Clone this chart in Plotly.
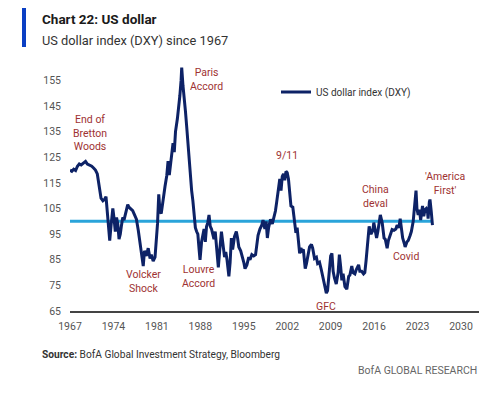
import plotly.graph_objects as go

# ---- data ----
years = [
    1967.0, 1967.3, 1967.6, 1967.9, 1968.2, 1968.5, 1968.8, 1969.1, 1969.5, 1969.8,
    1970.1, 1970.5, 1970.8, 1971.1, 1971.4, 1971.7, 1972.0, 1972.3, 1972.6, 1972.8,
    1973.0, 1973.2, 1973.4, 1973.6, 1973.9, 1974.1, 1974.3, 1974.5, 1974.7, 1974.9,
    1975.1, 1975.3, 1975.5, 1975.7, 1976.0, 1976.3, 1976.5, 1976.8, 1977.1, 1977.4,
    1977.7, 1978.0, 1978.2, 1978.5, 1978.8, 1979.0, 1979.3, 1979.6, 1979.9, 1980.1,
    1980.4, 1980.7, 1980.9, 1981.1, 1981.3, 1981.5, 1981.7, 1982.0, 1982.3, 1982.6,
    1982.8, 1983.0, 1983.3, 1983.6, 1983.8, 1984.0, 1984.3, 1984.5, 1984.7, 1984.9,
    1985.0, 1985.2, 1985.4, 1985.6, 1985.8, 1986.0, 1986.2, 1986.4, 1986.6, 1986.8,
    1987.0, 1987.2, 1987.4, 1987.6, 1987.8, 1987.95, 1988.2, 1988.4, 1988.6, 1988.8,
    1989.0, 1989.2, 1989.4, 1989.6, 1989.8, 1990.0, 1990.2, 1990.4, 1990.6, 1990.9,
    1991.1, 1991.4, 1991.6, 1991.9, 1992.1, 1992.3, 1992.6, 1992.8, 1993.0, 1993.2,
    1993.5, 1993.8, 1994.0, 1994.2, 1994.5, 1994.8, 1995.0, 1995.2, 1995.5, 1995.8,
    1996.0, 1996.3, 1996.6, 1996.9, 1997.1, 1997.3, 1997.6, 1997.9, 1998.1, 1998.4,
    1998.6, 1998.8, 1999.0, 1999.3, 1999.6, 1999.9, 2000.1, 2000.3, 2000.5, 2000.8,
    2001.0, 2001.2, 2001.4, 2001.6, 2001.8, 2002.0, 2002.2, 2002.4, 2002.6, 2002.9,
    2003.1, 2003.4, 2003.6, 2003.8, 2004.0, 2004.2, 2004.4, 2004.6, 2004.9, 2005.1,
    2005.4, 2005.6, 2005.9, 2006.1, 2006.4, 2006.7, 2006.9, 2007.2, 2007.5, 2007.8,
    2008.0, 2008.3, 2008.5, 2008.8, 2009.0, 2009.2, 2009.4, 2009.6, 2009.9, 2010.2,
    2010.4, 2010.6, 2010.8, 2011.0, 2011.3, 2011.6, 2011.9, 2012.1, 2012.4, 2012.6,
    2012.9, 2013.1, 2013.5, 2013.7, 2014.0, 2014.3, 2014.5, 2014.7, 2014.9, 2015.1,
    2015.2, 2015.5, 2015.8, 2015.95, 2016.1, 2016.4, 2016.6, 2016.9, 2017.0, 2017.3,
    2017.6, 2017.8, 2018.1, 2018.3, 2018.6, 2018.9, 2019.2, 2019.5, 2019.7, 2020.0,
    2020.2, 2020.4, 2020.6, 2020.9, 2021.0, 2021.3, 2021.5, 2021.8, 2022.0, 2022.3,
    2022.5, 2022.75, 2022.9, 2023.1, 2023.3, 2023.5, 2023.8, 2024.0, 2024.2, 2024.4,
    2024.6, 2024.7, 2024.9, 2025.0, 2025.2, 2025.3, 2025.4,
]
dxy = [
    120.0, 119.5, 120.3, 119.8, 121.5, 122.4, 122.0, 122.6, 123.4, 122.3,
    122.0, 121.5, 120.8, 120.0, 118.5, 113.5, 109.0, 108.0, 108.7, 109.6,
    104.0, 97.0, 92.5, 98.0, 105.0, 101.0, 96.0, 101.5, 99.0, 93.0,
    95.0, 98.5, 101.5, 100.5, 104.0, 106.5, 105.5, 105.0, 104.2, 102.5,
    100.8, 96.5, 93.0, 87.5, 82.5, 88.5, 86.5, 89.5, 85.5, 87.0,
    84.5, 86.0, 92.0, 99.0, 110.5, 104.0, 103.0, 109.0, 113.5, 118.0,
    123.5, 118.0, 125.0, 130.5, 127.0, 135.0, 140.0, 143.5, 149.0, 155.0,
    160.0, 153.0, 146.0, 143.0, 137.0, 130.0, 122.0, 117.0, 112.0, 108.0,
    101.0, 97.5, 96.0, 95.0, 89.0, 85.0, 92.0, 95.0, 97.0, 92.0,
    98.0, 99.5, 102.5, 98.0, 97.0, 95.0, 93.0, 96.0, 89.5, 82.0,
    88.0, 96.0, 92.0, 86.0, 88.0, 85.0, 78.5, 84.0, 93.5, 89.0,
    94.0, 96.0, 93.5, 90.0, 88.5, 86.0, 84.0, 81.5, 83.0, 86.0,
    85.0, 87.0, 86.5, 87.0, 92.0, 94.5, 97.0, 98.5, 100.5, 97.0,
    100.0, 93.5, 97.5, 100.8, 99.0, 101.5, 104.0, 107.5, 111.0, 116.5,
    112.0, 117.5, 118.5, 116.0, 119.5, 119.0, 116.5, 110.0, 106.0, 105.5,
    101.0, 95.5, 97.5, 93.5, 87.5, 89.5, 88.5, 89.0, 81.5, 83.5,
    88.0, 90.0, 91.0, 89.5, 85.5, 86.0, 83.5, 84.0, 81.0, 78.0,
    76.0, 72.0, 73.0, 80.0, 86.5, 87.5, 80.5, 78.0, 75.5, 80.0,
    87.0, 82.5, 77.0, 79.5, 74.5, 73.5, 78.5, 79.0, 82.5, 80.0,
    79.5, 81.0, 83.0, 80.5, 80.5, 79.5, 80.0, 84.5, 89.5, 95.0,
    98.0, 95.0, 96.5, 99.5, 97.5, 93.5, 96.0, 101.5, 102.5, 99.5,
    93.5, 93.0, 89.5, 92.5, 95.0, 96.8, 96.5, 97.0, 98.5, 97.5,
    101.0, 98.0, 93.5, 91.0, 90.0, 92.0, 92.5, 94.5, 96.0, 100.0,
    105.0, 112.0, 105.0, 102.5, 104.5, 100.5, 106.0, 102.0, 104.5, 105.0,
    104.0, 101.0, 107.5, 108.5, 104.0, 99.5, 98.5,
]
reference_level = 100
series_name = "US dollar index (DXY)"
x_ticks = [1967, 1974, 1981, 1988, 1995, 2002, 2009, 2016, 2023, 2030]
y_ticks = [65, 75, 85, 95, 105, 115, 125, 135, 145, 155]

events = ["End of<br>Bretton<br>Woods", "Paris<br>Accord", "Volcker<br>Shock",
          "Louvre<br>Accord", "9/11", "China<br>deval", "'America<br>First'",
          "Covid", "GFC"]
event_x = [1970.2, 1989.0, 1978.8, 1987.7, 2001.9, 2016.2, 2027.5, 2021.2, 2008.2]
event_y = [134.6, 155.5, 76.4, 78.4, 125.7, 109.6, 114.7, 86.1, 66.8]

FONT = "Roboto, 'Open Sans', sans-serif"
NAVY = "#0d2266"
RED = "#9e3232"

fig = go.Figure()
fig.add_trace(go.Scatter(
    x=[years[0], years[-1]], y=[reference_level, reference_level],
    mode="lines", line=dict(color="#2aa4da", width=3),
    showlegend=False, hoverinfo="skip"))
fig.add_trace(go.Scatter(
    x=years, y=dxy, mode="lines", name=series_name,
    line=dict(color=NAVY, width=3)))

for t, ex, ey in zip(events, event_x, event_y):
    fig.add_annotation(x=ex, y=ey, text=t, showarrow=False, align="center",
                       font=dict(family=FONT, size=10.5, color=RED))

# title block (paper coords relative to a 409x246 plot area)
fig.add_shape(type="rect", xref="paper", yref="paper",
              x0=-48/409, x1=-44/409, y0=1 + (65-6)/246, y1=1 + (65-47)/246,
              fillcolor="#0b3fc4", line=dict(width=0), layer="above")
fig.add_annotation(xref="paper", yref="paper", x=-30/409, y=1 + (65-19)/246,
                   text="<b>Chart 22: US dollar</b>", showarrow=False,
                   xanchor="left", yanchor="middle",
                   font=dict(family=FONT, size=13.5, color="#1a1a1a"))
fig.add_annotation(xref="paper", yref="paper", x=-30/409, y=1 + (65-41)/246,
                   text="US dollar index (DXY) since 1967", showarrow=False,
                   xanchor="left", yanchor="middle",
                   font=dict(family=FONT, size=12.8, color="#333333"))
fig.add_annotation(xref="paper", yref="paper", x=-30/409, y=-(354-311)/246,
                   text="<b>Source:</b> BofA Global Investment Strategy, Bloomberg",
                   showarrow=False, xanchor="left", yanchor="middle",
                   font=dict(family=FONT, size=10.2, color="#333333"))
fig.add_annotation(xref="paper", yref="paper", x=1.0, y=-(370-311)/246,
                   text="BofA GLOBAL RESEARCH", showarrow=False,
                   xanchor="right", yanchor="middle",
                   font=dict(family=FONT, size=10.5, color="#666666"))

# page has an 8px body margin: size figure so plot area lands where the reference has it
fig.update_layout(
    width=492, height=389,
    margin=dict(l=62, r=21, t=57, b=86),
    paper_bgcolor="white", plot_bgcolor="white",
    font=dict(family=FONT, size=10.5, color="#555555"),
    showlegend=True,
    legend=dict(x=(276-70)/409, y=1 - (92-65)/246, xanchor="left", yanchor="middle",
                bgcolor="rgba(0,0,0,0)", font=dict(family=FONT, size=10, color="#333333"),
                itemwidth=30),
    xaxis=dict(range=[1967, 2032.9], tickvals=x_ticks, ticktext=[str(v) for v in x_ticks],
               showgrid=False, zeroline=False, showline=True, linecolor="#444444",
               linewidth=2, ticks="", ticklabelstandoff=4),
    yaxis=dict(range=[65, 161], tickvals=y_ticks, showgrid=False, zeroline=False,
               showline=False, ticks="", ticklabelstandoff=8),
)

fig.write_html("out.html")
